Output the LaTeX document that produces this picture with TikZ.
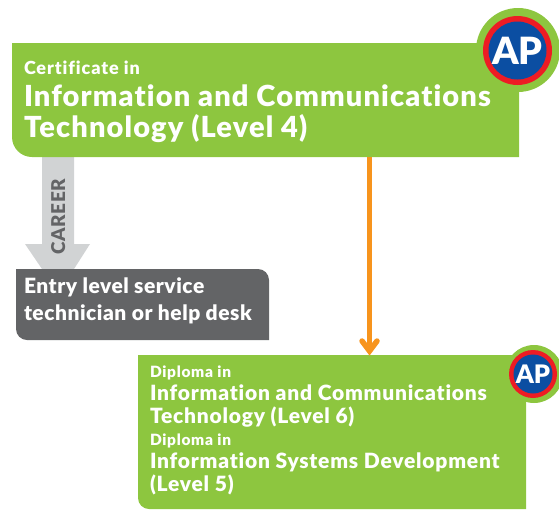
\documentclass[tikz,border=0pt]{standalone}
\usepackage{fontspec}
\setmainfont{Lato}[Ligatures={NoCommon},UprightFont=* Bold,BoldFont=* Black]
\usetikzlibrary{calc}
\definecolor{apgreen}{HTML}{8DC63F}
\definecolor{apgrey}{HTML}{636466}
\definecolor{aplight}{HTML}{D1D3D4}
\definecolor{aporange}{HTML}{F7941D}
\definecolor{apred}{HTML}{ED1C24}
\definecolor{apblue}{HTML}{0B4EA2}
\newcommand{\apfs}[2]{\fontsize{#2}{#2}\selectfont\bfseries\addfontfeature{LetterSpace=#1}}
\tikzset{
  x=1pt,y=-1pt,
  boxarea/.style={inner sep=0pt,outer sep=0pt,anchor=north west},
  txt/.style={inner sep=0pt,outer sep=0pt,anchor=base west,text=white},
  txtbig/.style={txt,font=\apfs{3.9}{29}},
  txtsmall/.style={txt,font=\apfs{5}{18}},
  txtmid/.style={txt,font=\apfs{3.7}{21}},
  txttiny/.style={txt,font=\apfs{4.5}{15.5}},
  txtgrey/.style={txt,font=\apfs{2.5}{21}},
  apbadge/.style={circle,inner sep=0pt,text=white},
}
\begin{document}
\begin{tikzpicture}
\useasboundingbox (0,0) rectangle (559,509);
% boxes
\node[boxarea,minimum width=507pt,minimum height=114pt] (top) at (12,43) {};
\node[boxarea,minimum width=253pt,minimum height=71pt] (job) at (16,269) {};
\node[boxarea,minimum width=388pt,minimum height=154pt] (dip) at (138,355) {};
% career arrow (behind the boxes)
\coordinate (shaftL) at (42,0); \coordinate (shaftR) at (74,0);
\coordinate (headL) at (25,244); \coordinate (headR) at (90,244);
\fill[aplight] (top.south -| shaftL) -- (shaftL |- headL) -- (headL) -- (job.north -| shaftL)
  -- (job.north -| shaftR) -- (headR) -- (shaftR |- headR) -- (top.south -| shaftR) -- cycle;
% filled boxes
\fill[apgreen] (top.west) -- (top.north west) -- (top.north east) -- (top.south east)
  [rounded corners=20pt] -- (top.south west) -- (top.west) [sharp corners] -- cycle;
\fill[apgrey] (job.north) [rounded corners=11pt] -- (job.north east) -- (job.east) [sharp corners]
  -- (job.south east) -- (job.south) [rounded corners=11pt] -- (job.south west) -- (job.west) [sharp corners]
  -- (job.north west) -- cycle;
\fill[apgreen] (dip.west) -- (dip.north west) -- (dip.north east) -- (dip.south east)
  [rounded corners=11pt] -- (dip.south west) -- (dip.west) [sharp corners] -- cycle;
% orange connector
\coordinate (ax) at (369.5,0);
\draw[aporange,line width=5.5pt] (top.south -| ax) -- ($(dip.north -| ax)+(0,-5)$);
\coordinate (tipA) at ($(dip.north -| ax)+(0,-4)$);
\draw[aporange,line width=5.5pt,line cap=round,line join=miter] ($(tipA)+(-7.5,-10)$) -- (tipA) -- ($(tipA)+(7.5,-10)$);
% badges
\fill[apgreen] (518,50) circle (42);
\fill[apred] (517.5,50.5) circle (34.5);
\fill[apblue] (517.5,50.5) circle (29);
\node[apbadge,font=\apfs{0}{37.5}] (ap1) at (517.5,50.5) {AP};
\fill[apgreen] (534,374) circle (29);
\fill[apred] (533,374) circle (24);
\fill[apblue] (533,374) circle (19.5);
\node[apbadge,font=\apfs{0}{25.5}] (ap2) at (533,374) {AP};
% text
\node[txtsmall] (t1) at (24,74.5) {Certificate in};
\node[txtbig] (t2) at (24,106.5) {Information and Communications};
\node[txtbig] (t3) at (24,137.5) {Technology (Level 4)};
\node[txt,font=\apfs{2.5}{19},text=apgrey,rotate=90] (car) at (65,254) {CAREER};
\node[txtgrey] (g1) at (24,293.5) {Entry level service};
\node[txtgrey] (g2) at (24,320.5) {technician or help desk};
\node[txttiny] (d1) at (150,377.5) {Diploma in};
\node[txtmid] (d2) at (150,400.5) {Information and Communications};
\node[txtmid] (d3) at (150,423.5) {Technology (Level 6)};
\node[txttiny] (d4) at (150,445.5) {Diploma in};
\node[txtmid] (d5) at (150,468.5) {Information Systems Development};
\node[txtmid] (d6) at (150,491.5) {(Level 5)};
\end{tikzpicture}
\end{document}
